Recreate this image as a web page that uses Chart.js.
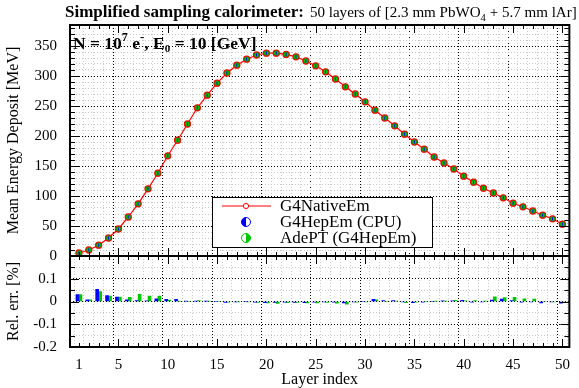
<!DOCTYPE html>
<html>
<head>
<meta charset="utf-8">
<script src="https://cdn.jsdelivr.net/npm/chart.js@4.4.1/dist/chart.umd.min.js"></script>
<style>
  html, body { margin: 0; padding: 0; background: #fff; }
  #wrap { width: 579px; height: 388px; }
</style>
</head>
<body>
<div id="wrap"><canvas id="chart" width="579" height="388"></canvas></div>
<script>
// ---- data ----
const layers = [1, 2, 3, 4, 5, 6, 7, 8, 9, 10, 11, 12, 13, 14, 15, 16, 17, 18, 19, 20,
  21, 22, 23, 24, 25, 26, 27, 28, 29, 30, 31, 32, 33, 34, 35, 36, 37, 38, 39, 40,
  41, 42, 43, 44, 45, 46, 47, 48, 49, 50];

// mean energy deposit [MeV]
const edepNative = [5, 10, 18, 30, 45, 65, 87, 112, 138, 167, 193, 220, 247, 268, 288, 305, 318, 328, 335, 338,
  338, 336, 332, 325, 317, 307, 295, 282, 270, 257, 243, 230, 217, 203, 190, 178, 165, 155, 145, 133,
  123, 113, 105, 97, 88, 82, 75, 68, 62, 53];
const edepHepEm = [5, 10, 18, 30, 45, 65, 87, 112, 138, 167, 193, 220, 247, 268, 288, 305, 318, 328, 335, 338,
  338, 336, 332, 325, 317, 307, 295, 282, 270, 257, 243, 230, 217, 203, 190, 178, 165, 155, 145, 133,
  123, 113, 105, 97, 88, 82, 75, 68, 62, 53];
const edepAdePT = [5, 10, 18, 30, 45, 65, 87, 112, 138, 167, 193, 220, 247, 268, 288, 305, 318, 328, 335, 338,
  338, 336, 332, 325, 317, 307, 295, 282, 270, 257, 243, 230, 217, 203, 190, 178, 165, 155, 145, 133,
  123, 113, 105, 97, 88, 82, 75, 68, 62, 53];

// relative error wrt G4NativeEm [%]
const relErrHepEm = [0.030, 0.007, 0.054, 0.026, 0.019, 0.007, 0.004, 0.003, 0.012, 0.009,
  0.010, 0.002, 0.002, 0.002, 0.000, -0.004, -0.002, 0.000, -0.003, -0.005,
  -0.004, -0.003, -0.004, -0.005, -0.003, -0.002, -0.003, -0.006, -0.002, 0.000,
  0.009, 0.004, 0.004, -0.002, -0.005, -0.003, 0.000, 0.003, 0.003, 0.005,
  -0.003, -0.002, 0.006, 0.011, 0.004, -0.003, -0.002, -0.006, -0.002, -0.007];
const relErrAdePT = [0.030, 0.007, 0.044, 0.024, 0.019, 0.018, 0.031, 0.024, 0.024, 0.006,
  0.001, 0.000, 0.004, 0.001, 0.000, -0.003, -0.001, -0.002, -0.004, -0.006,
  -0.008, -0.005, -0.004, -0.006, -0.006, -0.004, -0.007, -0.012, -0.003, -0.002,
  0.007, 0.000, 0.001, -0.005, -0.003, 0.000, 0.002, 0.002, 0.005, 0.003,
  0.004, 0.001, 0.020, 0.017, 0.018, 0.012, 0.011, 0.000, -0.002, -0.004];

const xTickLabels = [1, 5, 10, 15, 20, 25, 30, 35, 40, 45, 50];
const yMainTickLabels = [0, 50, 100, 150, 200, 250, 300, 350];
const yRelTickLabels = [-0.2, -0.1, 0, 0.1];

const seriesNames = ['G4NativeEm', 'G4HepEm (CPU)', 'AdePT (G4HepEm)'];

// ---- style ----
const SERIF = '"Liberation Serif", "Times New Roman", serif';
const RED = '#ff0000';
const BLUE = '#0000ff';
const GREEN = '#00c800';
const GRID_MAJOR = '#000000';
const GRID_MINOR = '#c8c8c8';

const toXY = (ys) => layers.map((l, i) => ({ x: l, y: ys[i] }));
const near = (v, list) => list.some(t => Math.abs(t - v) < 1e-6);

// draw a sequence of text pieces (for sub/superscripts), returns end x
function drawRuns(ctx, x, y, runs, measureOnly) {
  runs.forEach(r => {
    ctx.font = r.f;
    if (!measureOnly) ctx.fillText(r.t, x, y + (r.dy || 0));
    x += ctx.measureText(r.t).width;
  });
  return x;
}

function halfCircle(ctx, cx, cy, r, color, leftFilled) {
  ctx.beginPath();
  ctx.arc(cx, cy, r, 0, Math.PI * 2);
  ctx.fillStyle = '#fff';
  ctx.fill();
  ctx.beginPath();
  if (leftFilled) ctx.arc(cx, cy, r, Math.PI / 2, Math.PI * 1.5);
  else ctx.arc(cx, cy, r, -Math.PI / 2, Math.PI / 2);
  ctx.closePath();
  ctx.fillStyle = color;
  ctx.fill();
  ctx.beginPath();
  ctx.arc(cx, cy, r, 0, Math.PI * 2);
  ctx.strokeStyle = color;
  ctx.lineWidth = 1;
  ctx.stroke();
}

// frame + inward ticks like the original plot
const framePlugin = {
  id: 'frame',
  afterDraw(chart) {
    const { ctx, chartArea: a, scales } = chart;
    const x = scales.x, yM = scales.y, yR = scales.yRel;
    const mid = yM.bottom;
    ctx.save();
    ctx.strokeStyle = '#000';
    ctx.lineWidth = 1;
    ctx.beginPath();
    x.ticks.forEach(t => {
      const px = Math.round(x.getPixelForValue(t.value)) + 0.5;
      const len = t.value % 5 === 0 ? 8 : 4;
      ctx.moveTo(px, a.bottom); ctx.lineTo(px, a.bottom - len);
      ctx.moveTo(px, a.top); ctx.lineTo(px, a.top + len);
      ctx.moveTo(px, mid); ctx.lineTo(px, mid - len);
      ctx.moveTo(px, mid); ctx.lineTo(px, mid + len);
    });
    yM.ticks.forEach(t => {
      const py = Math.round(yM.getPixelForValue(t.value)) + 0.5;
      const len = near(t.value, yMainTickLabels) ? 9 : 5;
      ctx.moveTo(a.left, py); ctx.lineTo(a.left + len, py);
      ctx.moveTo(a.right, py); ctx.lineTo(a.right - len, py);
    });
    yR.ticks.forEach(t => {
      const py = Math.round(yR.getPixelForValue(t.value)) + 0.5;
      const len = near(t.value, yRelTickLabels) ? 9 : 5;
      ctx.moveTo(a.left, py); ctx.lineTo(a.left + len, py);
      ctx.moveTo(a.right, py); ctx.lineTo(a.right - len, py);
    });
    ctx.stroke();
    ctx.lineWidth = 2;
    ctx.strokeRect(a.left, a.top, a.right - a.left, a.bottom - a.top);
    ctx.beginPath();
    ctx.moveTo(a.left, mid); ctx.lineTo(a.right, mid);
    ctx.stroke();
    ctx.restore();
  }
};

// title, annotation and legend box
const textPlugin = {
  id: 'texts',
  afterDraw(chart) {
    const ctx = chart.ctx;
    ctx.save();
    ctx.fillStyle = '#000';
    ctx.textBaseline = 'alphabetic';
    const boldEnd = drawRuns(ctx, 65, 17, [
      { t: 'Simplified sampling calorimeter:', f: 'bold 17px ' + SERIF }
    ]);
    // regular part of the title is sized to end at the right edge, as in the original
    const titleRuns = (s) => [
      { t: '50 layers of [2.3 mm PbWO', f: s + 'px ' + SERIF },
      { t: '4', f: (s * 0.7) + 'px ' + SERIF, dy: 4 },
      { t: ' + 5.7 mm lAr]', f: s + 'px ' + SERIF }
    ];
    const start = boldEnd + 6;
    const w16 = drawRuns(ctx, 0, 0, titleRuns(16), true);
    const size = Math.min(16, 16 * (577 - start) / w16);
    drawRuns(ctx, start, 17, titleRuns(size));

    drawRuns(ctx, 73, 49, [
      { t: 'N = 10', f: 'bold 17.5px ' + SERIF },
      { t: '7', f: 'bold 12px ' + SERIF, dy: -8 },
      { t: ' e', f: 'bold 17.5px ' + SERIF },
      { t: '-', f: 'bold 13px ' + SERIF, dy: -8 },
      { t: ', E', f: 'bold 17.5px ' + SERIF },
      { t: '0', f: 'bold 11px ' + SERIF, dy: 3 },
      { t: ' = 10 [GeV]', f: 'bold 17.5px ' + SERIF }
    ]);

    // legend
    const lx = 212, ly = 197, lw = 220, lh = 50;
    ctx.fillStyle = '#fff';
    ctx.fillRect(lx, ly, lw, lh);
    ctx.strokeStyle = '#000';
    ctx.lineWidth = 1;
    ctx.strokeRect(lx + 0.5, ly + 0.5, lw, lh);
    const rows = [206, 222, 238];
    const mx = 246;
    ctx.strokeStyle = RED;
    ctx.beginPath();
    ctx.moveTo(222, rows[0]); ctx.lineTo(271, rows[0]);
    ctx.stroke();
    ctx.beginPath();
    ctx.arc(mx, rows[0], 2.6, 0, Math.PI * 2);
    ctx.fillStyle = '#fff';
    ctx.fill();
    ctx.stroke();
    halfCircle(ctx, mx, rows[1], 4.5, BLUE, true);
    halfCircle(ctx, mx, rows[2], 4.5, GREEN, false);
    ctx.fillStyle = '#000';
    ctx.font = '17px ' + SERIF;
    ctx.textBaseline = 'middle';
    seriesNames.forEach((n, i) => ctx.fillText(n, 280, rows[i] + 1));
    ctx.restore();
  }
};

const ctx = document.getElementById('chart').getContext('2d');

new Chart(ctx, {
  data: {
    datasets: [
      {
        type: 'line',
        label: seriesNames[0],
        data: toXY(edepNative),
        yAxisID: 'y',
        order: 3,
        borderColor: RED,
        borderWidth: 1.2,
        pointRadius: 3.1,
        pointBorderWidth: 1.1,
        pointBorderColor: RED,
        pointBackgroundColor: RED,
        tension: 0
      },
      {
        type: 'line',
        label: seriesNames[1],
        data: toXY(edepHepEm),
        yAxisID: 'y',
        order: 1,
        showLine: false,
        pointStyle: 'line',
        pointRotation: 90,
        pointRadius: 1.5,
        pointBorderWidth: 1,
        pointBorderColor: BLUE
      },
      {
        type: 'line',
        label: seriesNames[2],
        data: toXY(edepAdePT),
        yAxisID: 'y',
        order: 2,
        showLine: false,
        pointRadius: 2.4,
        pointBorderWidth: 0.5,
        pointBorderColor: '#008a00',
        pointBackgroundColor: GREEN
      },
      {
        type: 'bar',
        label: seriesNames[1],
        data: toXY(relErrHepEm),
        yAxisID: 'yRel',
        order: 0,
        backgroundColor: BLUE,
        barThickness: 3
      },
      {
        type: 'bar',
        label: seriesNames[2],
        data: toXY(relErrAdePT),
        yAxisID: 'yRel',
        order: 0,
        backgroundColor: GREEN,
        barThickness: 3
      }
    ]
  },
  options: {
    responsive: false,
    animation: false,
    devicePixelRatio: 1,
    layout: { padding: { top: 25, right: 8, left: 0, bottom: 0 } },
    plugins: {
      legend: { display: false },
      title: { display: false },
      tooltip: { enabled: false }
    },
    scales: {
      x: {
        type: 'linear',
        min: 0.6,
        max: 50.2,
        afterFit: (s) => { s.height = 41; },
        border: { display: false, dash: [1, 2] },
        grid: {
          drawTicks: false,
          lineWidth: 1,
          color: (c) => (c.tick && c.tick.value % 5 === 0 ? GRID_MAJOR : GRID_MINOR)
        },
        ticks: {
          stepSize: 1,
          includeBounds: false,
          autoSkip: false,
          maxRotation: 0,
          padding: 9,
          color: '#000',
          font: { family: SERIF, size: 15 },
          callback: (v) => (xTickLabels.includes(v) ? String(v) : '')
        },
        title: {
          display: true,
          text: 'Layer index',
          color: '#000',
          font: { family: SERIF, size: 16, lineHeight: 1 },
          padding: { top: 0, bottom: 0 }
        }
      },
      yRel: {
        type: 'linear',
        position: 'left',
        stack: 'panels',
        stackWeight: 91,
        min: -0.2,
        max: 0.2,
        afterFit: (s) => { s.width = 70; },
        border: { display: false, dash: [1, 2] },
        grid: {
          drawTicks: false,
          color: (c) => (c.tick && near(c.tick.value, yRelTickLabels) ? GRID_MAJOR : GRID_MINOR)
        },
        ticks: {
          stepSize: 0.05,
          includeBounds: false,
          autoSkip: false,
          padding: 13,
          color: '#000',
          font: { family: SERIF, size: 15 },
          callback: (v) => (near(v, yRelTickLabels) ? String(Math.round(v * 10) / 10) : '')
        },
        title: {
          display: true,
          text: 'Rel. err. [%]',
          color: '#000',
          font: { family: SERIF, size: 16 },
          padding: { top: 4, bottom: 0 }
        }
      },
      y: {
        type: 'linear',
        position: 'left',
        stack: 'panels',
        stackWeight: 231,
        min: 0,
        max: 385,
        afterFit: (s) => { s.width = 70; },
        border: { display: false, dash: [1, 2] },
        grid: {
          drawTicks: false,
          color: (c) => (c.tick && near(c.tick.value, yMainTickLabels) ? GRID_MAJOR : GRID_MINOR)
        },
        ticks: {
          stepSize: 10,
          includeBounds: false,
          autoSkip: false,
          padding: 13,
          color: '#000',
          font: { family: SERIF, size: 15 },
          callback: (v) => (near(v, yMainTickLabels) ? String(v) : '')
        },
        title: {
          display: true,
          text: 'Mean Energy Deposit [MeV]',
          color: '#000',
          font: { family: SERIF, size: 16 },
          padding: { top: 4, bottom: 0 }
        }
      }
    }
  },
  plugins: [framePlugin, textPlugin]
});
</script>
</body>
</html>
